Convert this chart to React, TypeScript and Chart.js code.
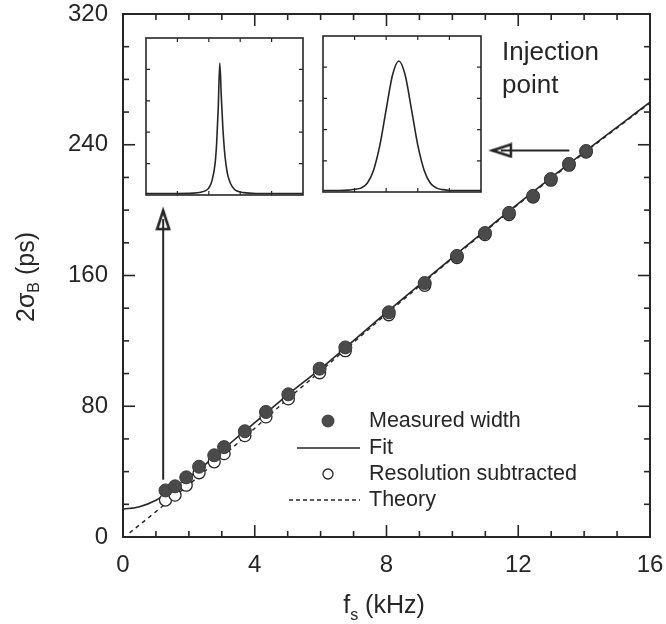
import React, { useEffect, useRef } from "react";
import { Chart, registerables } from "chart.js";

Chart.register(...registerables);

// ---------- data ----------
const measuredFs = [1.29, 1.58, 1.92, 2.31, 2.77, 3.07, 3.7, 4.34, 5.02, 5.97, 6.75, 8.07, 9.16, 10.14, 10.99, 11.72, 12.45, 12.99, 13.54, 14.06];
const measuredWidth = [28.5, 31, 36.5, 43, 50, 55, 64.7, 76.5, 87.3, 103, 116, 137.5, 155.4, 172, 186, 198.3, 208.7, 219, 228.3, 236.2];
const subtractedWidth = [22.6, 25.6, 31.7, 39.3, 46, 51, 62, 73.5, 84.5, 100.5, 114, 136, 154, 171, 185, 197.3, 208, 218.3, 227.5, 235.5];

const fitFs = [0, 0.5, 1, 1.5, 2, 2.5, 3, 3.5, 4, 5, 6, 8, 10, 12, 14, 16];
const fitWidth = [17, 18.5, 22.5, 29, 36.5, 44.5, 53, 61.5, 70, 87, 103, 137.5, 171, 204, 235.5, 266];

const theoryFs = [0.2, 1, 2, 3, 4, 5, 6, 8, 10, 12, 14, 16];
const theoryWidth = [2.5, 15.5, 32, 49, 66.5, 84.5, 101.5, 136.5, 170.5, 203.5, 235, 265.5];

const arrowUpFs = [1.22, 1.22];
const arrowUpWidth = [35, 200];
const arrowLeftFs = [13.55, 11.2];
const arrowLeftWidth = [236.5, 236.5];

const xTickValues = [0, 4, 8, 12, 16];
const yTickValues = [0, 80, 160, 240, 320];
const xMinorStep = 1;
const yMinorStep = 20;

const legendLabels = ["Measured width", "Fit", "Resolution subtracted", "Theory"];
const noteLines = ["Injection", "point"];

// inset profiles (position across the inset 0..100, relative height 0..1)
const narrowPos = [0, 10, 20, 30, 35, 38, 40, 42, 44, 45, 46, 47, 48, 49, 50, 51, 52, 54, 56, 58, 62, 70, 80, 90, 100];
const narrowVal = [0.01, 0.01, 0.01, 0.012, 0.018, 0.028, 0.045, 0.09, 0.2, 0.33, 0.55, 0.84, 0.62, 0.42, 0.28, 0.19, 0.13, 0.07, 0.04, 0.025, 0.015, 0.01, 0.01, 0.01, 0.01];
const broadPos = [0, 10, 16, 20, 24, 28, 32, 36, 40, 44, 48, 52, 56, 60, 64, 68, 72, 76, 80, 90, 100];
const broadVal = [0.01, 0.01, 0.012, 0.018, 0.025, 0.056, 0.14, 0.3, 0.53, 0.75, 0.84, 0.75, 0.53, 0.3, 0.14, 0.056, 0.025, 0.015, 0.01, 0.01, 0.01];

// ---------- styles ----------
const INK = "#262626";
const FONT = "'Liberation Sans', Arial, Helvetica, sans-serif";
const W = 666;
const H = 624;

const pts = (xs: number[], ys: number[]) => xs.map((x, i) => ({ x, y: ys[i] }));

function makeHead(): HTMLCanvasElement {
  const c = document.createElement("canvas");
  c.width = 16;
  c.height = 44;
  const g = c.getContext("2d")!;
  g.lineJoin = "miter";
  g.beginPath();
  g.moveTo(8, 22.5);
  g.lineTo(2, 41);
  g.lineTo(14, 41);
  g.closePath();
  g.fillStyle = "#ffffff";
  g.fill();
  g.strokeStyle = INK;
  g.lineWidth = 2.6;
  g.stroke();
  g.beginPath();
  g.moveTo(8, 31);
  g.lineTo(8, 42);
  g.lineWidth = 2;
  g.stroke();
  return c;
}

type Part = { t: string; size: number; dy: number };

function drawParts(ctx: CanvasRenderingContext2D, parts: Part[], cx: number, baseY: number) {
  let total = 0;
  parts.forEach((p) => {
    ctx.font = `${p.size}px ${FONT}`;
    total += ctx.measureText(p.t).width;
  });
  let x = cx - total / 2;
  ctx.textAlign = "left";
  ctx.textBaseline = "alphabetic";
  parts.forEach((p) => {
    ctx.font = `${p.size}px ${FONT}`;
    ctx.fillText(p.t, x, baseY + p.dy);
    x += ctx.measureText(p.t).width;
  });
}

const framePlugin = {
  id: "frameTicks",
  afterDatasetsDraw(chart: any) {
    const { ctx, chartArea: a, scales } = chart;
    const xs = scales.x;
    const ys = scales.y;
    ctx.save();
    ctx.strokeStyle = INK;
    ctx.lineWidth = 2;
    ctx.strokeRect(a.left, a.top, a.right - a.left, a.bottom - a.top);
    ctx.lineWidth = 1.6;
    const seg = (x1: number, y1: number, x2: number, y2: number) => {
      ctx.beginPath();
      ctx.moveTo(x1, y1);
      ctx.lineTo(x2, y2);
      ctx.stroke();
    };
    for (let v = xs.min + xMinorStep; v < xs.max; v += xMinorStep) {
      const p = xs.getPixelForValue(v);
      const len = xTickValues.includes(v) ? 12 : 6;
      seg(p, a.bottom, p, a.bottom - len);
      seg(p, a.top, p, a.top + len);
    }
    for (let v = ys.min + yMinorStep; v < ys.max; v += yMinorStep) {
      const p = ys.getPixelForValue(v);
      const len = yTickValues.includes(v) ? 12 : 6;
      seg(a.left, p, a.left + len, p);
      seg(a.right, p, a.right - len, p);
    }
    ctx.restore();
  },
  afterDraw(chart: any) {
    const { ctx } = chart;
    ctx.save();
    ctx.fillStyle = INK;
    ctx.strokeStyle = INK;

    // axis titles
    drawParts(ctx, [
      { t: "f", size: 25, dy: 0 },
      { t: "s", size: 16, dy: 7 },
      { t: " (kHz)", size: 25, dy: 0 },
    ], 384, 613);
    ctx.save();
    ctx.translate(34, 277);
    ctx.rotate(-Math.PI / 2);
    drawParts(ctx, [
      { t: "2σ", size: 25, dy: 0 },
      { t: "B", size: 16, dy: 5 },
      { t: " (ps)", size: 25, dy: 0 },
    ], 0, 0);
    ctx.restore();

    // note
    ctx.font = `26px ${FONT}`;
    ctx.textAlign = "left";
    ctx.textBaseline = "alphabetic";
    ctx.fillText(noteLines[0], 502, 60);
    ctx.fillText(noteLines[1], 502, 93);

    // legend
    const rows = [421, 448, 474, 500];
    const tx = 369;
    ctx.fillStyle = "#4a4a4a";
    ctx.beginPath();
    ctx.arc(328, rows[0], 6.5, 0, Math.PI * 2);
    ctx.fill();
    ctx.lineWidth = 1.5;
    ctx.beginPath();
    ctx.moveTo(297, rows[1]);
    ctx.lineTo(360, rows[1]);
    ctx.stroke();
    ctx.lineWidth = 1.3;
    ctx.beginPath();
    ctx.arc(328, rows[2], 5, 0, Math.PI * 2);
    ctx.stroke();
    ctx.setLineDash([4, 3]);
    ctx.lineWidth = 1.3;
    ctx.beginPath();
    ctx.moveTo(289, rows[3]);
    ctx.lineTo(360, rows[3]);
    ctx.stroke();
    ctx.setLineDash([]);
    ctx.fillStyle = INK;
    ctx.font = `21.5px ${FONT}`;
    ctx.textBaseline = "middle";
    legendLabels.forEach((l, i) => ctx.fillText(l, tx, rows[i]));
    ctx.restore();
  },
};

const insetPlugin = {
  id: "insetFrame",
  afterDatasetsDraw(chart: any) {
    const { ctx, chartArea: a } = chart;
    ctx.save();
    ctx.strokeStyle = INK;
    ctx.lineWidth = 1.6;
    ctx.strokeRect(a.left, a.top, a.right - a.left, a.bottom - a.top);
    ctx.lineWidth = 1.2;
    const w = a.right - a.left;
    const h = a.bottom - a.top;
    for (let k = 1; k < 5; k++) {
      const px = a.left + (w * k) / 5;
      const py = a.top + (h * k) / 5;
      ctx.beginPath();
      ctx.moveTo(px, a.top); ctx.lineTo(px, a.top + 4);
      ctx.moveTo(px, a.bottom); ctx.lineTo(px, a.bottom - 4);
      ctx.moveTo(a.left, py); ctx.lineTo(a.left + 4, py);
      ctx.moveTo(a.right, py); ctx.lineTo(a.right - 4, py);
      ctx.stroke();
    }
    ctx.restore();
  },
};

function insetConfig(xs: number[], ys: number[]): any {
  return {
    type: "scatter",
    data: {
      datasets: [
        {
          data: pts(xs, ys),
          showLine: true,
          borderColor: INK,
          borderWidth: 1.6,
          pointRadius: 0,
          cubicInterpolationMode: "monotone",
        },
      ],
    },
    options: {
      responsive: false,
      animation: false,
      layout: { padding: 1 },
      plugins: { legend: { display: false }, tooltip: { enabled: false } },
      scales: {
        x: { type: "linear", display: false, min: 0, max: 100 },
        y: { type: "linear", display: false, min: 0, max: 1 },
      },
    },
    plugins: [insetPlugin],
  };
}

export default function App() {
  const mainRef = useRef<HTMLCanvasElement>(null);
  const insetARef = useRef<HTMLCanvasElement>(null);
  const insetBRef = useRef<HTMLCanvasElement>(null);

  useEffect(() => {
    const head = makeHead();
    const tickFont = { family: FONT, size: 24 };
    const main = new Chart(mainRef.current!, {
      type: "scatter",
      data: {
        datasets: [
          {
            label: legendLabels[0],
            data: pts(measuredFs, measuredWidth),
            pointRadius: 6.5,
            backgroundColor: "#4a4a4a",
            borderColor: "#3a3a3a",
            borderWidth: 1,
            order: 0,
          },
          {
            label: legendLabels[2],
            data: pts(measuredFs, subtractedWidth),
            pointRadius: 6,
            backgroundColor: "#ffffff",
            borderColor: INK,
            borderWidth: 1.3,
            order: 1,
          },
          {
            label: legendLabels[1],
            data: pts(fitFs, fitWidth),
            showLine: true,
            pointRadius: 0,
            borderColor: INK,
            borderWidth: 1.6,
            cubicInterpolationMode: "monotone",
            order: 2,
          },
          {
            label: legendLabels[3],
            data: pts(theoryFs, theoryWidth),
            showLine: true,
            pointRadius: 0,
            borderColor: INK,
            borderWidth: 1.4,
            borderDash: [4, 4],
            order: 3,
          },
          {
            label: "arrow-up",
            data: pts(arrowUpFs, arrowUpWidth),
            showLine: true,
            borderColor: INK,
            borderWidth: 2,
            pointStyle: head,
            rotation: 0,
            pointRadius: (c: any) => (c.dataIndex === 1 ? 6 : 0),
            order: 4,
          },
          {
            label: "arrow-left",
            data: pts(arrowLeftFs, arrowLeftWidth),
            showLine: true,
            borderColor: INK,
            borderWidth: 2,
            pointStyle: head,
            rotation: -90,
            pointRadius: (c: any) => (c.dataIndex === 1 ? 6 : 0),
            order: 4,
          },
        ] as any,
      },
      options: {
        responsive: false,
        animation: false,
        layout: { padding: { left: 0, right: 16, top: 14, bottom: 0 } },
        plugins: { legend: { display: false }, tooltip: { enabled: false } },
        scales: {
          x: {
            type: "linear",
            min: 0,
            max: 16,
            afterFit: (s: any) => {
              s.height = 87;
              s.paddingLeft = 0;
              s.paddingRight = 0;
            },
            afterBuildTicks: (s: any) => { s.ticks = xTickValues.map((v) => ({ value: v })); },
            grid: { display: false, drawTicks: false },
            border: { display: false },
            ticks: { color: INK, font: tickFont, padding: 14, maxRotation: 0 },
          },
          y: {
            type: "linear",
            min: 0,
            max: 320,
            afterFit: (s: any) => {
              s.width = 123;
              s.paddingTop = 0;
              s.paddingBottom = 0;
            },
            afterBuildTicks: (s: any) => { s.ticks = yTickValues.map((v) => ({ value: v })); },
            grid: { display: false, drawTicks: false },
            border: { display: false },
            ticks: { color: INK, font: tickFont, padding: 15 },
          },
        },
      } as any,
      plugins: [framePlugin],
    });

    const xs = main.scales.x;
    const ys = main.scales.y;
    const boxes = [
      { ref: insetARef, x0: 0.67, x1: 5.49, y0: 208.7, y1: 306.2, px: narrowPos, py: narrowVal },
      { ref: insetBRef, x0: 6.03, x1: 10.89, y0: 210.3, y1: 307.2, px: broadPos, py: broadVal },
    ];
    const insets: Chart[] = [];
    boxes.forEach((b) => {
      const cv = b.ref.current!;
      const left = Math.round(xs.getPixelForValue(b.x0));
      const right = Math.round(xs.getPixelForValue(b.x1));
      const top = Math.round(ys.getPixelForValue(b.y1));
      const bottom = Math.round(ys.getPixelForValue(b.y0));
      cv.width = right - left;
      cv.height = bottom - top;
      cv.style.left = `${left}px`;
      cv.style.top = `${top}px`;
      cv.style.width = `${right - left}px`;
      cv.style.height = `${bottom - top}px`;
      insets.push(new Chart(cv, insetConfig(b.px, b.py)));
    });

    return () => {
      insets.forEach((c) => c.destroy());
      main.destroy();
    };
  }, []);

  return (
    <div style={{ position: "absolute", left: 0, top: 0, width: W, height: H, background: "#fff", overflow: "hidden" }}>
      <canvas ref={mainRef} width={W} height={H} style={{ position: "absolute", left: 0, top: 0, width: W, height: H }} />
      <canvas ref={insetARef} style={{ position: "absolute" }} />
      <canvas ref={insetBRef} style={{ position: "absolute" }} />
    </div>
  );
}
